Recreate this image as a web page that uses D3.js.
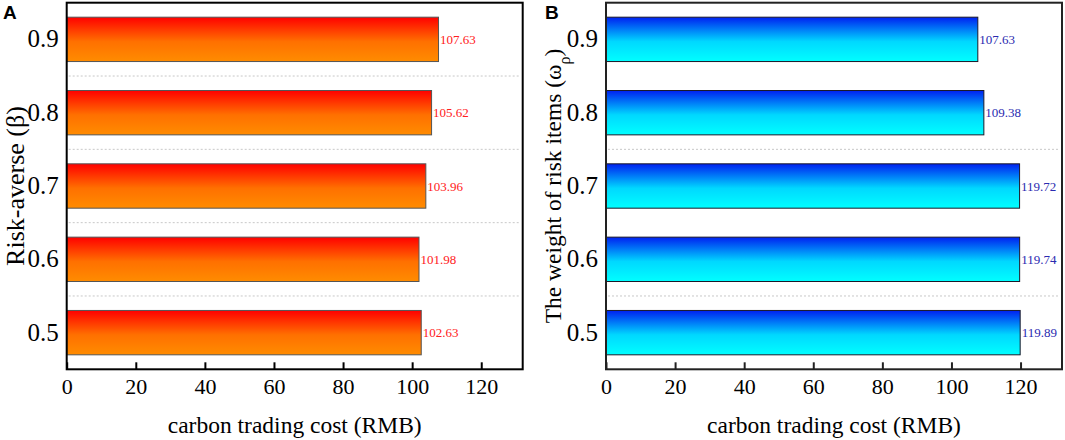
<!DOCTYPE html>
<html>
<head>
<meta charset="utf-8">
<script src="https://cdn.jsdelivr.net/npm/d3@7"></script>
<style>
  html, body { margin: 0; padding: 0; background: #fff; }
  svg { display: block; }
</style>
</head>
<body>
<svg id="chart" width="1065" height="440"></svg>
<script>
// ---- data ----
const categories = ["0.9", "0.8", "0.7", "0.6", "0.5"];
const riskAverseCost = [107.63, 105.62, 103.96, 101.98, 102.63];
const riskWeightCost = [107.63, 109.38, 119.72, 119.74, 119.89];
const valueLabelsA = ["107.63", "105.62", "103.96", "101.98", "102.63"];
const valueLabelsB = ["107.63", "109.38", "119.72", "119.74", "119.89"];
const xTicks = [0, 20, 40, 60, 80, 100, 120];
const xMax = 132;
const gridBelowA = ["0.9", "0.8", "0.7", "0.6"];
const gridBelowB = ["0.8", "0.6"];
const xTitle = "carbon trading cost (RMB)";

const svg = d3.select("#chart");
const defs = svg.append("defs");

function gradient(id, stops) {
  const g = defs.append("linearGradient").attr("id", id)
    .attr("x1", 0).attr("y1", 0).attr("x2", 0).attr("y2", 1);
  stops.forEach(s => g.append("stop").attr("offset", s[0]).attr("stop-color", s[1]));
}
gradient("gradA", [[0, "#ff0000"], [0.55, "#ff7000"], [1, "#ff8c00"]]);
gradient("gradB", [[0, "#0020f0"], [0.55, "#00d8ff"], [1, "#00ffff"]]);

const serif = "'Liberation Serif', 'Times New Roman', serif";

function panel(opts) {
  const left = opts.left, right = opts.left + 456, top = 2.7, bottom = 369.3;
  const g = svg.append("g");
  const x = d3.scaleLinear().domain([0, xMax]).range([left, right]);
  const y = d3.scaleBand().domain(categories).range([top, bottom])
    .paddingInner(0.395).paddingOuter(0.1975);

  // gridlines at band boundaries
  g.selectAll(".grid").data(opts.gridBelow).enter().append("line")
    .attr("x1", left + 2).attr("x2", right - 3)
    .attr("y1", d => y(d) + y.step() - (y.step() - y.bandwidth()) / 2)
    .attr("y2", d => y(d) + y.step() - (y.step() - y.bandwidth()) / 2)
    .attr("stroke", "#c8c8c8").attr("stroke-width", 1)
    .attr("stroke-dasharray", "2,2");

  // bars
  g.selectAll(".bar").data(opts.values).enter().append("rect")
    .attr("x", x(0))
    .attr("y", (d, i) => y(categories[i]))
    .attr("width", d => x(d) - x(0))
    .attr("height", y.bandwidth())
    .attr("fill", `url(#${opts.grad})`)
    .attr("stroke", opts.barStroke).attr("stroke-width", 1);

  // value labels
  g.selectAll(".val").data(opts.values).enter().append("text")
    .attr("x", d => x(d) + 1.5)
    .attr("y", (d, i) => y(categories[i]) + y.bandwidth() / 2)
    .attr("dy", "0.35em")
    .attr("font-family", serif).attr("font-size", 13)
    .attr("fill", opts.valColor)
    .text((d, i) => opts.labels[i]);

  // frame
  g.append("rect").attr("x", left).attr("y", top)
    .attr("width", right - left).attr("height", bottom - top)
    .attr("fill", "none").attr("stroke", opts.frame).attr("stroke-width", 2);

  // x axis
  const xa = g.append("g").attr("transform", `translate(0,${bottom})`)
    .call(d3.axisBottom(x).tickValues(xTicks).tickSize(-7).tickPadding(9));
  xa.select(".domain").remove();
  xa.selectAll(".tick line").attr("stroke", opts.frame).attr("stroke-width", 2);
  xa.selectAll(".tick text").attr("font-family", serif).attr("font-size", 22).attr("fill", "#000");

  // y axis
  const ya = g.append("g").attr("transform", `translate(${left},0)`)
    .call(d3.axisLeft(y).tickSize(0).tickPadding(8));
  ya.select(".domain").remove();
  ya.selectAll(".tick text").attr("font-family", serif).attr("font-size", 25).attr("fill", "#000");

  // x title
  g.append("text").attr("x", (left + right) / 2).attr("y", 433)
    .attr("text-anchor", "middle").attr("font-family", serif).attr("font-size", 23.5)
    .attr("fill", "#000").text(xTitle);

  // y title
  const yt = g.append("text")
    .attr("transform", `translate(${opts.yTitleX},${opts.yTitleY}) rotate(-90)`)
    .attr("text-anchor", "middle").attr("font-family", serif).attr("font-size", opts.yTitleSize)
    .attr("fill", "#000");
  opts.yTitle(yt);

  // panel letter
  g.append("text").attr("x", opts.letterX).attr("y", 19)
    .attr("font-family", "'Liberation Sans', Arial, sans-serif").attr("font-weight", "bold")
    .attr("font-size", 19).attr("fill", "#000").text(opts.letter);
}

panel({
  left: 66.7, values: riskAverseCost, labels: valueLabelsA, grad: "gradA",
  barStroke: "#555", valColor: "#ff2020", frame: "#000", gridBelow: gridBelowA,
  yTitleX: 23.5, yTitleY: 186, yTitleSize: 26,
  yTitle: t => t.text("Risk-averse (β)"),
  letter: "A", letterX: 3
});

panel({
  left: 606, values: riskWeightCost, labels: valueLabelsB, grad: "gradB",
  barStroke: "#1a1a2a", valColor: "#2a2ab0", frame: "#222", gridBelow: gridBelowB,
  yTitleX: 561, yTitleY: 186, yTitleSize: 23.5,
  yTitle: t => {
    t.append("tspan").text("The weight of risk items (ω");
    t.append("tspan").attr("baseline-shift", "sub").attr("font-size", 16).text("ρ");
    t.append("tspan").text(")");
  },
  letter: "B", letterX: 545
});
</script>
</body>
</html>
